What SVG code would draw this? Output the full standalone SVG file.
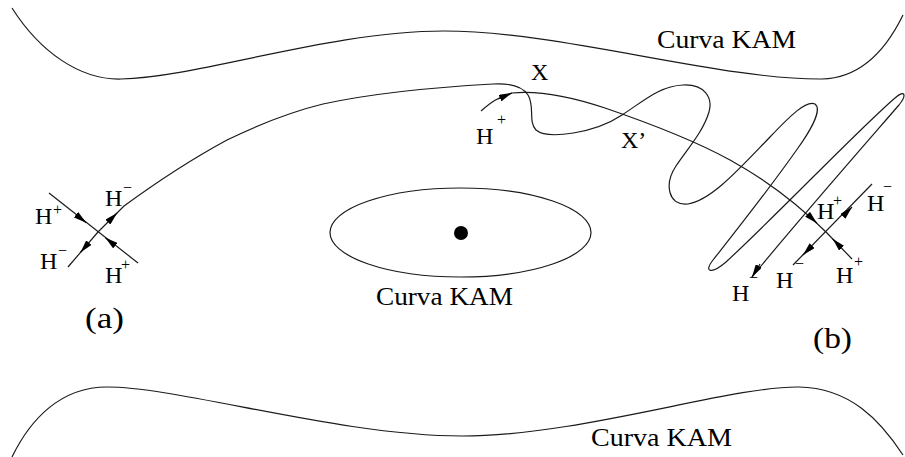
<svg xmlns="http://www.w3.org/2000/svg" width="905" height="457" viewBox="0 0 905 457">
<style>
.ln{fill:none;stroke:#1a1a1a;stroke-width:1.2}
.ar{fill:none;stroke:#1a1a1a;stroke-width:1.2;marker-end:url(#ah)}
text{font-family:"Liberation Serif","Times New Roman",serif;fill:#000}
.lbl{font-size:26px}
.cap{font-size:30px}
.h{font-size:24px}
.sup{font-size:16px}
</style>
<defs>
<marker id="ah" markerUnits="userSpaceOnUse" markerWidth="13" markerHeight="7" viewBox="0 0 13 7" refX="13" refY="3.5" orient="auto">
<path d="M0,0 L13,3.5 L0,7 z" fill="#000"/>
</marker>
</defs>
<rect width="905" height="457" fill="#fff"/>

<g id="kam-top">
<path class="ln" d="M12 8 C40 52,80 80,121 79 C200 77,330 31,444 31 C560 31,720 80,822 79 C860 78,885 52,903 15"/>
<text class="lbl" x="657" y="48" textLength="139" lengthAdjust="spacingAndGlyphs">Curva KAM</text>
</g>

<g id="kam-bottom">
<path class="ln" d="M12 457 C30 420,60 387,107 387 C180 387,340 436,462 436 C580 436,730 386,799 387 C850 388,880 420,903 455"/>
<text class="lbl" x="591" y="446" textLength="141" lengthAdjust="spacingAndGlyphs">Curva KAM</text>
</g>

<g id="kam-center">
<ellipse class="ln" cx="460.5" cy="232.5" rx="130.5" ry="44.5"/>
<circle cx="461" cy="233" r="7" fill="#000"/>
<text class="lbl" x="376" y="305" textLength="137" lengthAdjust="spacingAndGlyphs">Curva KAM</text>
</g>

<g id="connectors">
<path class="ln" d="M49 193 L138 263"/>
<path class="ln" d="M68 267 L98 232 L124 206 C150 187,190 160,227 140 C260 124,290 112,323 104 C360 96,420 88,493 84 C510 83,522 86,528 95 C535 106,528 122,536 130 C548 140,595 133,622 115 C645 100,660 86,683 85 C705 84,713 98,709 112 C703 132,688 148,676 166 C664 184,668 206,688 204 C712 200,740 168,770 137 C790 116,806 100,815 104 C823 110,808 134,798 148 C770 188,735 232,713 260 C703 273,712 274,726 262 C780 212,860 128,895 98 C905 89,907 95,899 105 C860 150,790 230,752 277"/>
<path class="ln" d="M481 111 C490 103,498 97,512 93 C540 90,575 98,605 108 C640 120,690 138,730 160 C770 182,800 206,827 233 L852 259"/>
<path class="ln" d="M793 265 L872 184"/>
<path class="ar" d="M76.8 215.3 L86.2 222.7"/>
<path class="ar" d="M114.5 245 L105.1 237.6"/>
<path class="ar" d="M88.2 243.4 L80.4 252.5"/>
<path class="ar" d="M108.6 221.4 L117.1 212.9"/>
<path class="ar" d="M498 99 L512 93"/>
<path class="ar" d="M808.3 215 L817 223.3"/>
<path class="ar" d="M840.9 247.4 L832.6 238.8"/>
<path class="ar" d="M811.4 246.4 L803 255"/>
<path class="ar" d="M843.6 215.6 L852 207"/>
<path class="ar" d="M760 264 L752 277"/>
</g>

<g id="point-a">
<text class="h"><tspan x="35" y="224">H</tspan><tspan class="sup" x="53" y="215">+</tspan></text>
<text class="h"><tspan x="105" y="206">H</tspan><tspan class="sup" x="123" y="193">−</tspan></text>
<text class="h"><tspan x="40" y="269">H</tspan><tspan class="sup" x="58" y="256">−</tspan></text>
<text class="h"><tspan x="105" y="283">H</tspan><tspan class="sup" x="121" y="270">+</tspan></text>
<text class="cap" x="85" y="328" textLength="39" lengthAdjust="spacingAndGlyphs">(a)</text>
</g>

<g id="point-x">
<text class="h"><tspan x="476" y="144">H</tspan><tspan class="sup" x="497" y="125">+</tspan></text>
<text class="h" x="531" y="80">X</text>
<text class="h" x="621" y="148">X’</text>
</g>

<g id="point-b">
<text class="h"><tspan x="817" y="219">H</tspan><tspan class="sup" x="833" y="206">+</tspan></text>
<text class="h"><tspan x="867" y="211">H</tspan><tspan class="sup" x="883" y="192">−</tspan></text>
<text class="h"><tspan x="836" y="283">H</tspan><tspan class="sup" x="854" y="267">+</tspan></text>
<text class="h"><tspan x="776" y="288">H</tspan><tspan class="sup" x="795" y="269">−</tspan></text>
<text class="h"><tspan x="732" y="301">H</tspan><tspan class="sup" x="749" y="283">−</tspan></text>
<text class="cap" x="813" y="348" textLength="39" lengthAdjust="spacingAndGlyphs">(b)</text>
</g>
</svg>
